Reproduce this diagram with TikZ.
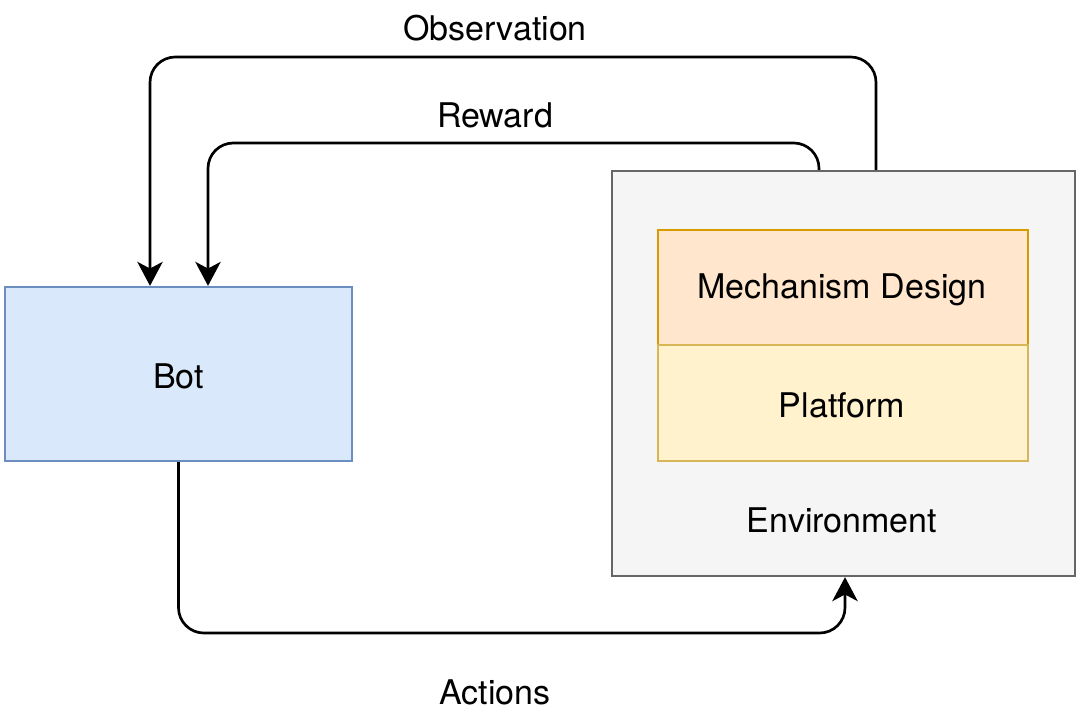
\documentclass[tikz,border=0pt]{standalone}
\usepackage{fontspec}
\setmainfont{TeX Gyre Heros}
\usetikzlibrary{arrows.meta}
\definecolor{botfill}{HTML}{DAE8FC}
\definecolor{botline}{HTML}{6C8EBF}
\definecolor{envfill}{HTML}{F5F5F5}
\definecolor{envline}{HTML}{666666}
\definecolor{mechfill}{HTML}{FFE6CC}
\definecolor{mechline}{HTML}{D79B00}
\definecolor{platfill}{HTML}{FFF2CC}
\definecolor{platline}{HTML}{D6B656}
\tikzset{
  box/.style={rectangle, inner sep=0pt, line width=1.7pt},
  lbl/.style={inner sep=0pt, font=\fontsize{25.5}{30}\selectfont},
  flow/.style={line width=2pt, rounded corners=19pt,
    -{Stealth[length=18pt, width=19pt, inset=5pt]}},
}
\begin{document}
\begin{tikzpicture}[x=0.75pt, y=-0.75pt]
\useasboundingbox (0,0) rectangle (1080,724);
\node[box, draw=botline, fill=botfill, minimum width=260pt, minimum height=130.5pt] (bot) at (178.5,374) {};
\node[lbl] (botlbl) at (178.5,376) {Bot};
\node[box, draw=envline, fill=envfill, minimum width=347.25pt, minimum height=303.75pt] (env) at (843.5,373.5) {};
\node[box, draw=mechline, fill=mechfill, minimum width=277.5pt, minimum height=86.25pt] (mech) at (843,287.5) {};
\node[lbl] (mechlbl) at (842,290) {Mechanism Design};
\node[box, draw=platline, fill=platfill, minimum width=277.5pt, minimum height=87pt] (plat) at (843,403) {};
\node[lbl] (platlbl) at (842,405) {Platform};
\node[lbl] (envlbl) at (842,520) {Environment};
\draw[flow] (env.north -| 876,0) -- (876,57) -- (150,57) -- (bot.north -| 150,0);
\draw[flow] (env.north -| 819,0) -- (819,143) -- (208,143) -- (bot.north -| 208,0);
\draw[flow] (bot.south) -- (178.5,633) -- (845,633) -- (env.south -| 845,0);
\node[lbl] (obs) at (495,28) {Observation};
\node[lbl] (rew) at (495,115) {Reward};
\node[lbl] (act) at (495,692) {Actions};
\end{tikzpicture}
\end{document}
